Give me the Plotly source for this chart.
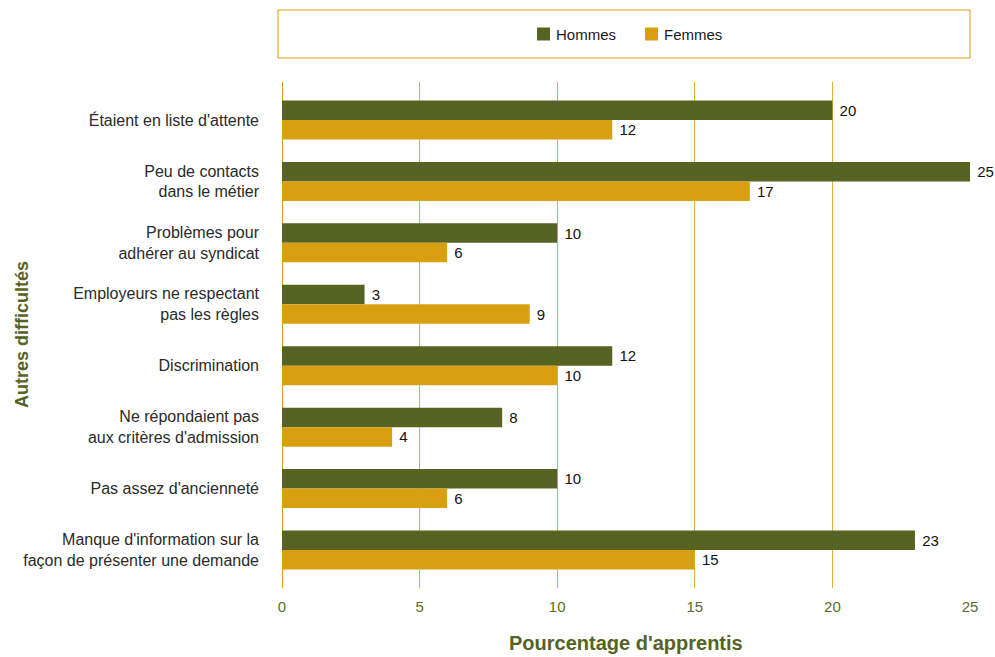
import plotly.graph_objects as go

# Difficulties reported by apprentices, top to bottom
categories = [
    "Étaient en liste d'attente",
    "Peu de contacts<br>dans le métier",
    "Problèmes pour<br>adhérer au syndicat",
    "Employeurs ne respectant<br>pas les règles",
    "Discrimination",
    "Ne répondaient pas<br>aux critères d'admission",
    "Pas assez d'ancienneté",
    "Manque d'information sur la<br>façon de présenter une demande",
]
hommes = [20, 25, 10, 3, 12, 8, 10, 23]
femmes = [12, 17, 6, 9, 10, 4, 6, 15]
series = [("Hommes", hommes), ("Femmes", femmes)]
x_ticks = [0, 5, 10, 15, 20, 25]

GREEN = "#566323"
GOLD = "#D8A010"
FONT = "Liberation Sans, Arial, sans-serif"

# plot-area geometry in pixels
W, H = 995, 657
L, R, T, B = 282, 25, 82, 69
PW, PH = W - L - R, H - T - B


def px_x(x):
    return (x - L) / PW


def px_y(y):
    return (H - B - y) / PH


fig = go.Figure()
for (name, vals), color in zip(series, [GREEN, GOLD]):
    fig.add_trace(go.Bar(
        name=name, y=categories, x=vals, orientation="h",
        marker=dict(color=color, line=dict(width=0)),
        text=vals, texttemplate=" %{x}", textposition="outside",
        textfont=dict(family=FONT, size=15, color="#111111"),
        cliponaxis=False, showlegend=False,
    ))

n = len(categories)
pad = 0.118

shapes = [
    # box framing the legend
    dict(type="rect", xref="paper", yref="paper",
         x0=px_x(278), x1=px_x(970), y0=px_y(58), y1=px_y(10),
         line=dict(color=GOLD, width=1), fillcolor="rgba(0,0,0,0)", layer="below"),
    # zero line
    dict(type="line", xref="x", yref="paper", x0=0, x1=0, y0=0, y1=1,
         line=dict(color=GOLD, width=2), layer="below"),
]
annotations = []
# legend entries: colour square + label
for (name, _), color, sx in zip(series, [GREEN, GOLD], [537, 645]):
    shapes.append(dict(type="rect", xref="paper", yref="paper",
                       x0=px_x(sx), x1=px_x(sx + 13), y0=px_y(40.5), y1=px_y(27.5),
                       line=dict(width=0), fillcolor=color))
    annotations.append(dict(text=name, xref="paper", yref="paper",
                            x=px_x(sx + 17), y=px_y(34), xanchor="left", yanchor="middle",
                            showarrow=False,
                            font=dict(family=FONT, size=15, color="#1a1a1a")))

# axis titles
annotations.append(dict(text="<b>Pourcentage d'apprentis</b>", xref="paper", yref="paper",
                        x=0.5, y=px_y(643), xanchor="center", yanchor="middle",
                        showarrow=False, font=dict(family=FONT, size=20, color=GREEN)))
annotations.append(dict(text="<b>Autres difficultés</b>", xref="paper", yref="paper",
                        x=px_x(22), y=0.5, xanchor="center", yanchor="middle", textangle=-90,
                        showarrow=False, font=dict(family=FONT, size=18, color=GREEN)))

fig.update_layout(
    width=W, height=H,
    margin=dict(l=L, r=R, t=T, b=B, autoexpand=False),
    paper_bgcolor="white", plot_bgcolor="white",
    barmode="group", bargap=0.365, bargroupgap=0,
    font=dict(family=FONT, color="#222"),
    showlegend=False,
    xaxis=dict(
        range=[0, 25], tickvals=x_ticks, ticktext=[str(t) for t in x_ticks],
        showgrid=True, gridcolor="#E2AE3C", gridwidth=1,
        zeroline=False, showline=False, automargin=False,
        tickfont=dict(family=FONT, size=15, color="#5C6B2A"),
        ticks="", ticklabelstandoff=8,
    ),
    yaxis=dict(
        type="category", categoryorder="array", categoryarray=categories,
        range=[n - 0.5 + pad, -0.5 - pad],
        showgrid=False, zeroline=False, showline=False, ticks="", automargin=False,
        tickfont=dict(family=FONT, size=16, color="#2a2a2a"),
        ticklabelstandoff=22,
    ),
    shapes=shapes,
    annotations=annotations,
)

fig.write_html("out.html")
